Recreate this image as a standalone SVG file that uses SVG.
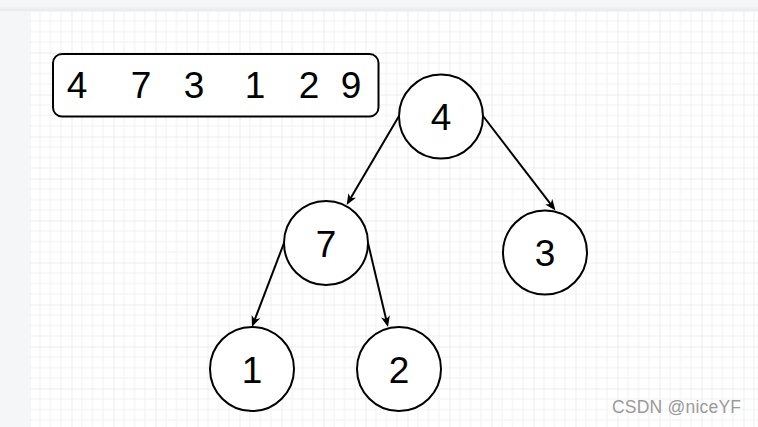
<svg xmlns="http://www.w3.org/2000/svg" width="758" height="427" viewBox="0 0 758 427">
<defs>
<pattern id="grid" patternUnits="userSpaceOnUse" x="29.5" y="10.5" width="42" height="42">
<path d="M10.5 0V42M21 0V42M31.5 0V42M0 10.5H42M0 21H42M0 31.5H42" stroke="#f0f0f0" stroke-width="1" fill="none"/>
<path d="M0 0V42M0 0H42" stroke="#dcdcdc" stroke-width="1" fill="none"/>
</pattern>
<marker id="arr" markerUnits="userSpaceOnUse" markerWidth="12" markerHeight="10" refX="5" refY="4.5" orient="auto">
<path d="M0,0 L11,4.5 L0,9 L3,4.5 Z" fill="#000"/>
</marker>
<linearGradient id="sh" x1="0" y1="0" x2="0" y2="1">
<stop offset="0" stop-color="#f5f6f7"/><stop offset="1" stop-color="#e8e9ea"/>
</linearGradient>
</defs>
<style>
.node circle{fill:#fff;stroke:#000;stroke-width:2}
.lbl{font-family:"Liberation Sans",Arial,sans-serif;font-size:37px;fill:#000;text-anchor:middle}
.edge{stroke:#000;stroke-width:2;fill:none;marker-end:url(#arr)}
</style>
<rect width="758" height="427" fill="#f5f6f7"/>
<rect x="0" y="6" width="758" height="5" fill="url(#sh)"/>
<rect x="30" y="11" width="728" height="416" fill="#fff"/>
<rect x="30" y="11" width="728" height="416" fill="url(#grid)"/>
<g id="array">
<rect x="53" y="54" width="325.5" height="62.5" rx="9" fill="#fff" stroke="#000" stroke-width="2"/>
<text class="lbl" y="98"><tspan x="77">4</tspan><tspan x="141">7</tspan><tspan x="194">3</tspan><tspan x="255">1</tspan><tspan x="309">2</tspan><tspan x="351">9</tspan></text>
</g>
<g id="edges">
<path class="edge" d="M399 116L349.7 199.8"/>
<path class="edge" d="M483 116L551.8 205.7"/>
<path class="edge" d="M284 243L254.1 321.4"/>
<path class="edge" d="M368 243L386.6 321.2"/>
</g>
<g id="n4" class="node"><circle cx="441" cy="116.5" r="42"/><text class="lbl" x="441" y="130">4</text></g>
<g id="n7" class="node"><circle cx="326" cy="243" r="42"/><text class="lbl" x="326" y="256.5">7</text></g>
<g id="n3" class="node"><circle cx="545" cy="252.5" r="42"/><text class="lbl" x="545" y="266">3</text></g>
<g id="n1" class="node"><circle cx="252" cy="369" r="42"/><text class="lbl" x="252" y="382.5">1</text></g>
<g id="n2" class="node"><circle cx="399" cy="369" r="42"/><text class="lbl" x="399" y="382.5">2</text></g>
<text x="612" y="413" font-family="'Liberation Sans',Arial,sans-serif" font-size="17.5" fill="#9a9a9a" textLength="129">CSDN @niceYF</text>
</svg>
